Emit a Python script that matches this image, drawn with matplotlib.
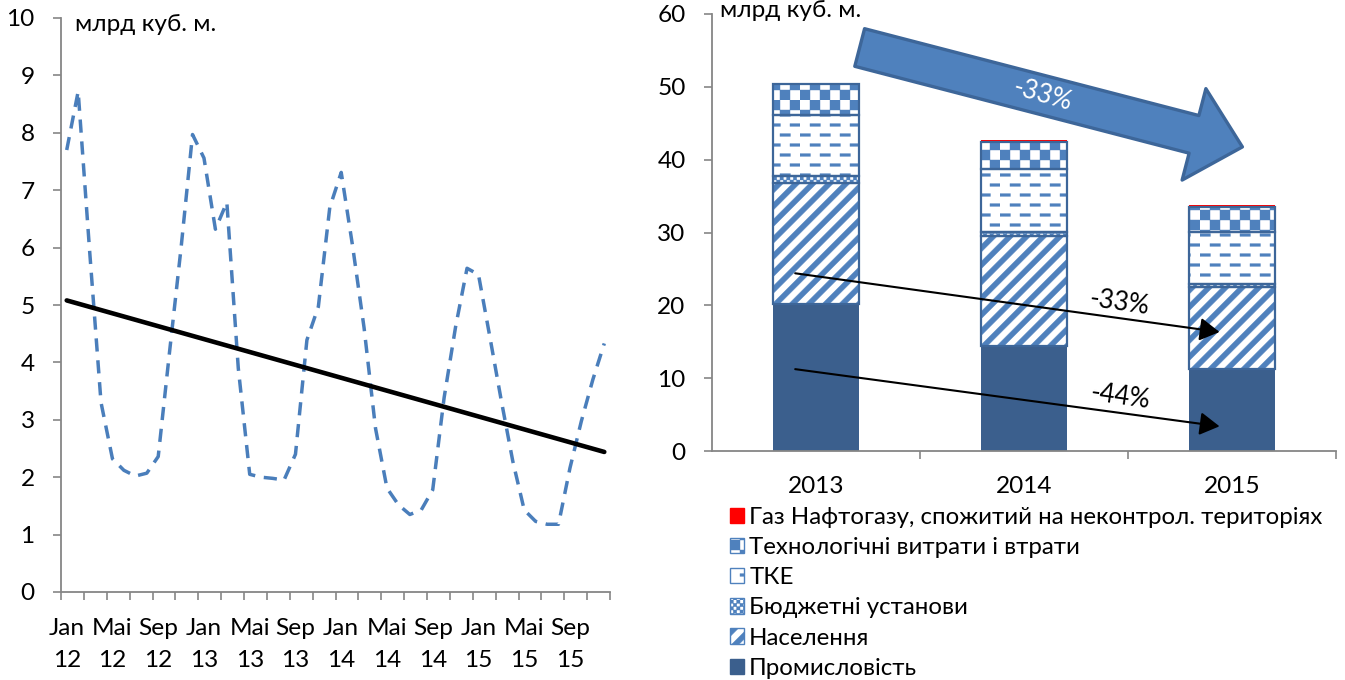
import numpy as np
import matplotlib
matplotlib.use("Agg")
import matplotlib.pyplot as plt
import matplotlib.hatch as mhatch
from matplotlib.path import Path
from matplotlib.patches import Patch, FancyArrowPatch, ArrowStyle
from matplotlib.ticker import FixedLocator
from matplotlib import font_manager as fm

# ---------------- data ----------------
month_names = ['Jan', 'Feb', 'Mar', 'Apr', 'Mai', 'Jun', 'Jul', 'Aug', 'Sep', 'Oct', 'Nov', 'Dec']
year_labels = ['12', '13', '14', '15']
consumption_2012 = [7.70, 8.72, 5.95, 3.30, 2.32, 2.12, 2.02, 2.07, 2.36, 4.20, 6.00, 7.97]
consumption_2013 = [7.56, 6.32, 6.79, 3.90, 2.05, 2.00, 1.98, 1.95, 2.40, 4.39, 4.97, 6.70]
consumption_2014 = [7.31, 6.02, 4.60, 2.85, 1.81, 1.52, 1.35, 1.43, 1.78, 3.39, 4.62, 5.64]
consumption_2015 = [5.53, 4.44, 3.33, 2.28, 1.43, 1.23, 1.18, 1.18, 2.16, 2.98, 3.70, 4.33]
trend_first_last = [5.08, 2.44]
unit_label = 'млрд куб. м.'

bar_years = ['2013', '2014', '2015']
industry = [20.25, 14.40, 11.30]
population = [16.60, 15.10, 11.20]
budget = [0.90, 0.60, 0.40]
heat_utilities = [8.40, 8.60, 7.20]
tech_losses = [4.25, 3.70, 3.40]
occupied = [0.00, 0.25, 0.25]
series_names = ['Промисловість', 'Населення', 'Бюджетні установи', 'ТКЕ',
                'Технологічні витрати і втрати',
                'Газ Нафтогазу, спожитий на неконтрол. територіях']
total_change = '-33%'
population_change = '-33%'
industry_change = '-44%'

consumption = consumption_2012 + consumption_2013 + consumption_2014 + consumption_2015

# ---------------- fonts ----------------
all_text = ''.join(series_names) + unit_label + ''.join(month_names)


def has_glyphs(family, text):
    try:
        from fontTools.ttLib import TTFont
        path = fm.findfont(fm.FontProperties(family=family), fallback_to_default=False)
        cmap = TTFont(path, fontNumber=0).getBestCmap()
        return all(ord(c) in cmap for c in text if not c.isspace())
    except Exception:
        return False


FONT = 'DejaVu Sans'
for cand in ['Lato', 'Roboto', 'Noto Sans', 'Liberation Sans']:
    if has_glyphs(cand, all_text):
        FONT = cand
        break
plt.rcParams['font.family'] = [FONT, 'DejaVu Sans']
plt.rcParams['hatch.linewidth'] = 0.3
plt.rcParams['lines.scale_dashes'] = False

# ---------------- custom hatch patterns ----------------
_SQ = [Path.MOVETO, Path.LINETO, Path.LINETO, Path.LINETO, Path.CLOSEPOLY]


class StripeHatch(mhatch.HatchPatternBase):
    """wide upward diagonal stripes (filled bands)"""
    def __init__(self, hatch, density):
        self.n = 6 if '/' in hatch else 0
        self.num_vertices = (2 * self.n + 1) * 5 if self.n else 0

    def set_vertices_and_codes(self, vertices, codes):
        p = 1.0 / self.n
        w = p * 0.44
        i = 0
        for k in range(-self.n, self.n + 1):
            c = k * p
            vertices[i:i + 5] = [(-0.1, -0.1 + c), (1.1, 1.1 + c), (1.1, 1.1 + c + w),
                                 (-0.1, -0.1 + c + w), (-0.1, -0.1 + c)]
            codes[i:i + 5] = _SQ
            i += 5


class DashHatch(mhatch.HatchPatternBase):
    """staggered horizontal dashes"""
    def __init__(self, hatch, density):
        self.on = '-' in hatch
        self.rows, self.per_row = 10, 5
        self.num_vertices = self.rows * self.per_row * 5 if self.on else 0

    def set_vertices_and_codes(self, vertices, codes):
        i = 0
        dy = 1.0 / self.rows
        period = 1.0 / self.per_row
        length = period * 0.52
        th = 0.026
        for r in range(self.rows):
            yc = (r + 0.5) * dy
            off = 0.0 if r % 2 == 0 else period / 2
            for j in range(self.per_row):
                x0 = off + j * period
                vertices[i:i + 5] = [(x0, yc - th / 2), (x0 + length, yc - th / 2),
                                     (x0 + length, yc + th / 2), (x0, yc + th / 2),
                                     (x0, yc - th / 2)]
                codes[i:i + 5] = _SQ
                i += 5


class CheckerHatch(mhatch.HatchPatternBase):
    def __init__(self, hatch, density):
        if '+' in hatch:
            self.g = 10
        elif 'x' in hatch:
            self.g = 30
        else:
            self.g = 0
        self.num_vertices = (self.g * self.g // 2) * 5 if self.g else 0

    def set_vertices_and_codes(self, vertices, codes):
        s = 1.0 / self.g
        i = 0
        for r in range(self.g):
            for c in range(self.g):
                if (r + c) % 2 == 0:
                    x0, y0 = c * s, r * s
                    vertices[i:i + 5] = [(x0, y0), (x0 + s, y0), (x0 + s, y0 + s),
                                         (x0, y0 + s), (x0, y0)]
                    codes[i:i + 5] = _SQ
                    i += 5


mhatch._hatch_types = [StripeHatch, DashHatch, CheckerHatch]

# ---------------- colours ----------------
AX_GRAY = '#868686'
LINE_BLUE = '#4A7EBB'
HATCH_BLUE = '#4F81BD'
DARK_BLUE = '#3B5F8D'
EDGE_BLUE = '#3D6699'
TICK_FS = 17.6
LEG_FS = 17.3
ANN_FS = 18.5

W, H = 1345, 680
fig = plt.figure(figsize=(W / 100, H / 100), dpi=100)
fig.patch.set_facecolor('white')

# ================= left chart =================
ax1 = fig.add_axes([61 / W, 88 / H, 549 / W, 574 / H])
x_m = np.arange(len(consumption))
ax1.plot(x_m, consumption, color=LINE_BLUE, lw=2.5, dashes=(9.5, 6.3),
         solid_joinstyle='round', dash_joinstyle='round', dash_capstyle='butt')
ax1.plot(x_m[[0, -1]], trend_first_last, color='black', lw=3.3, solid_capstyle='round')

ax1.set_xlim(-0.5, len(consumption) - 0.5)
ax1.set_ylim(0, 10)
ax1.set_yticks(np.arange(0, 11, 1))
lab_pos = x_m[::4]
ax1.xaxis.set_major_locator(FixedLocator(lab_pos))
ax1.set_xticklabels([f"{month_names[i % 12]}\n{year_labels[i // 12]}" for i in lab_pos],
                    linespacing=1.62)
ax1.xaxis.set_minor_locator(FixedLocator(np.arange(-0.5, len(consumption), 2)))
ax1.tick_params(axis='x', which='major', length=0, pad=19, labelsize=TICK_FS)
ax1.tick_params(axis='x', which='minor', length=6, width=1.2, color=AX_GRAY, direction='out')
ax1.tick_params(axis='y', which='major', length=6, width=1.2, color=AX_GRAY,
                direction='out', pad=13, labelsize=TICK_FS)
for s in ['top', 'right']:
    ax1.spines[s].set_visible(False)
for s in ['left', 'bottom']:
    ax1.spines[s].set_color(AX_GRAY)
    ax1.spines[s].set_linewidth(1.3)
ax1.text(0.025, 0.988, unit_label, transform=ax1.transAxes, ha='left', va='center',
         fontsize=TICK_FS)

# ================= right chart =================
ax2 = fig.add_axes([712 / W, 229 / H, 624 / W, 437 / H])
xb = np.arange(len(bar_years))
bw = 0.41
series = [industry, population, budget, heat_utilities, tech_losses, occupied]
styles = [
    dict(facecolor=DARK_BLUE, edgecolor=DARK_BLUE, hatch=None, outline=False),
    dict(facecolor='white', edgecolor=HATCH_BLUE, hatch='/', outline=True),
    dict(facecolor='white', edgecolor=HATCH_BLUE, hatch='x', outline=True),
    dict(facecolor='white', edgecolor=HATCH_BLUE, hatch='-', outline=True),
    dict(facecolor='white', edgecolor=HATCH_BLUE, hatch='+', outline=True),
    dict(facecolor='#FF0000', edgecolor='#FF0000', hatch=None, outline=False),
]
bottom = np.zeros(len(bar_years))
handles = []
for vals, st in zip(series, styles):
    vals = np.asarray(vals)
    ax2.bar(xb, vals, bw, bottom=bottom, facecolor=st['facecolor'],
            edgecolor=st['edgecolor'], hatch=st['hatch'], linewidth=0, zorder=2)
    if st['outline']:
        ax2.bar(xb, vals, bw, bottom=bottom, fill=False, edgecolor=EDGE_BLUE,
                linewidth=1.6, zorder=3)
    handles.append(Patch(facecolor=st['facecolor'],
                         edgecolor=st['edgecolor'] if st['hatch'] else st['facecolor'],
                         hatch=st['hatch'], linewidth=1.0))
    bottom = bottom + vals

ax2.set_xlim(-0.5, len(bar_years) - 0.5)
ax2.set_ylim(0, 60)
ax2.set_yticks(np.arange(0, 61, 10))
ax2.set_xticks(xb)
ax2.set_xticklabels(bar_years)
ax2.xaxis.set_minor_locator(FixedLocator(xb + 0.5))
ax2.tick_params(axis='x', which='major', length=0, pad=18, labelsize=TICK_FS)
ax2.tick_params(axis='x', which='minor', length=6, width=1.2, color=AX_GRAY, direction='out')
ax2.tick_params(axis='y', which='major', length=6, width=1.2, color=AX_GRAY,
                direction='out', pad=13, labelsize=TICK_FS)
for s in ['top', 'right']:
    ax2.spines[s].set_visible(False)
for s in ['left', 'bottom']:
    ax2.spines[s].set_color(AX_GRAY)
    ax2.spines[s].set_linewidth(1.3)
ax2.text(0.013, 1.008, unit_label, transform=ax2.transAxes, ha='left', va='center',
         fontsize=TICK_FS, clip_on=False)

# big blue arrow (total change)
totals = bottom
big = FancyArrowPatch(posA=(xb[0] + 0.21, totals[0] + 5.0), posB=(xb[2] + 0.05, totals[2] + 8.0),
                      arrowstyle=ArrowStyle.Simple(head_length=36, head_width=68, tail_width=28),
                      mutation_scale=1, shrinkA=0, shrinkB=0, facecolor=HATCH_BLUE,
                      edgecolor=EDGE_BLUE, linewidth=2.4, transform=ax2.transData,
                      clip_on=False, zorder=5)
ax2.add_patch(big)
ax2.text(1.09, 48.8, total_change, color='white', fontsize=ANN_FS, rotation=-16,
         ha='center', va='center', zorder=6)

# thin black arrows
pop_mid = [industry[0] + population[0] * 0.25, industry[2] + population[2] * 0.45]
ind_mid = [industry[0] * 0.555, industry[2] * 0.3]
for (y0, y1), lbl, ly in [((pop_mid[0], pop_mid[1]), population_change, 20.4),
                          ((ind_mid[0], ind_mid[1]), industry_change, 7.4)]:
    ax2.annotate('', xy=(xb[2] - 0.06, y1), xytext=(xb[0] - 0.1, y0),
                 arrowprops=dict(arrowstyle=ArrowStyle('-|>', head_length=0.6, head_width=0.35),
                                 mutation_scale=20, lw=1.5, color='black',
                                 shrinkA=0, shrinkB=0), zorder=6)
    ax2.text(1.46, ly, lbl, color='black', fontsize=ANN_FS, rotation=-8,
             ha='center', va='center', zorder=6)

# legend (reverse order)
leg = fig.legend(handles[::-1], series_names[::-1], loc='upper left',
                 bbox_to_anchor=(730 / W, 1 - 507 / H), bbox_transform=fig.transFigure,
                 frameon=False, fontsize=LEG_FS, handlelength=0.6, handleheight=0.6,
                 handletextpad=0.2, labelspacing=0.38, borderpad=0, borderaxespad=0)

fig.savefig('out.png', dpi=100)
